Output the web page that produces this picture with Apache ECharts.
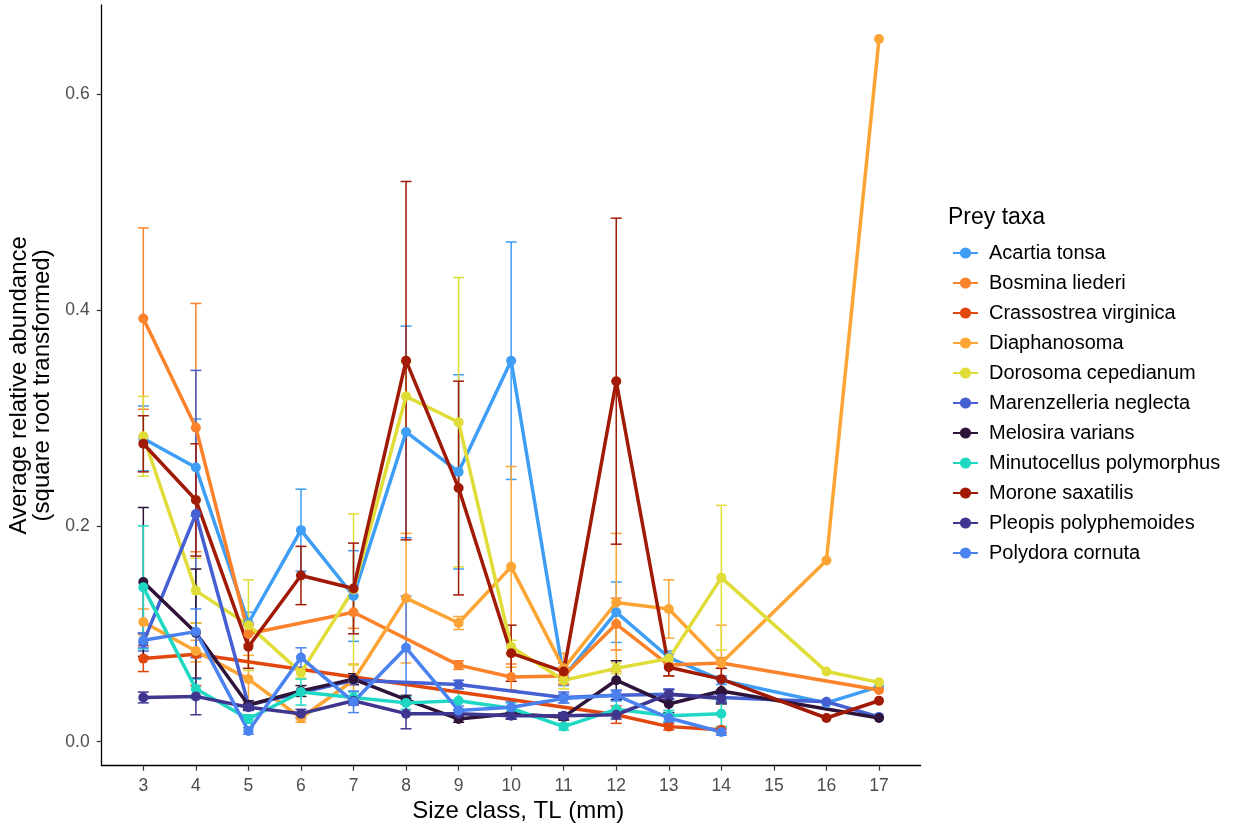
<!DOCTYPE html>
<html><head><meta charset="utf-8">
<script src="https://cdn.jsdelivr.net/npm/echarts@6/dist/echarts.min.js"></script>
<style>html,body{margin:0;padding:0;background:#fff;overflow:hidden}#c{width:1241px;height:823px}</style>
</head><body><div id="c"></div>
<script>
// Size classes (TL, mm)
const sizes = [3,4,5,6,7,8,9,10,11,12,13,14,15,16,17];
const xTicks = [3,4,5,6,7,8,9,10,11,12,13,14,15,16,17];
const yTicks = [0, 0.2, 0.4, 0.6];
const yTickLabels = ['0.0', '0.2', '0.4', '0.6'];

const taxa = ['Acartia tonsa','Bosmina liederi','Crassostrea virginica','Diaphanosoma','Dorosoma cepedianum',
  'Marenzelleria neglecta','Melosira varians','Minutocellus polymorphus','Morone saxatilis','Pleopis polyphemoides','Polydora cornuta'];
const taxaColors = ['#3e9df5','#f9822b','#e2470e','#fca535','#e0dc38','#4560d2','#2e1439','#1fd8c4','#a11a06','#3f3690','#4a82ef'];

// mean values per size class (null = absent)
const acartiaMean      = [0.281,0.254,0.110,0.196,0.135,0.287,0.250,0.353,0.060,0.120,0.078,0.057,null,0.036,0.051];
const acartiaSE        = [0.030,0.045,0.010,0.038,0.042,0.098,0.090,0.110,0.008,0.028,0.006,0.004,null,null,null];
const bosminaMean      = [0.392,0.291,0.100,null,0.120,null,0.071,0.060,0.061,0.109,0.071,0.073,null,null,0.048];
const bosminaSE        = [0.084,0.115,0.010,null,0.015,null,0.004,0.012,0.008,0.024,0.010,0.005,null,null,null];
const crassostreaMean  = [0.077,0.081,null,null,null,null,null,null,null,0.025,0.014,0.011,null,null,null];
const crassostreaSE    = [0.012,0.029,null,null,null,null,null,null,null,0.008,0.003,0.003,null,null,null];
const diaphanosomaMean = [0.111,0.084,0.058,0.022,0.057,0.133,0.110,0.162,0.068,0.129,0.123,0.073,null,0.168,0.651];
const diaphanosomaSE   = [0.012,0.010,0.022,0.004,0.015,0.060,0.006,0.093,0.014,0.064,0.027,0.035,null,null,null];
const dorosomaMean     = [0.283,0.140,0.108,0.064,0.141,0.320,0.296,0.088,0.057,0.068,0.077,0.152,null,0.065,0.055];
const dorosomaSE       = [0.037,0.030,0.042,0.005,0.070,0.032,0.134,0.006,0.008,0.005,0.005,0.067,null,null,null];
const marenzelleriaMean= [0.092,0.211,0.034,null,0.057,null,0.053,null,0.041,0.043,0.044,0.041,null,0.037,0.023];
const marenzelleriaSE  = [0.008,0.133,0.004,null,0.004,null,0.004,null,0.005,0.004,0.005,0.004,null,null,null];
const melosiraMean     = [0.148,0.101,0.034,0.047,0.058,0.039,0.021,0.026,0.023,0.057,0.035,0.047,null,null,0.022];
const melosiraSE       = [0.069,0.059,0.004,0.005,0.005,0.004,0.003,0.005,0.003,0.018,0.008,0.012,null,null,null];
const minutocellusMean = [0.143,0.049,0.021,0.046,0.041,0.036,0.038,0.031,0.014,0.030,0.024,0.026,null,null,null];
const minutocellusSE   = [0.057,0.009,0.004,0.012,0.005,0.006,0.008,0.005,0.003,0.008,0.005,0.012,null,null,null];
const moroneMean       = [0.276,0.224,0.088,0.154,0.142,0.353,0.235,0.082,0.065,0.334,0.069,0.058,null,0.022,0.038];
const moroneSE         = [0.026,0.052,0.020,0.027,0.042,0.166,0.099,0.026,0.008,0.151,0.008,0.010,null,null,null];
const pleopisMean      = [0.041,0.042,0.032,0.026,0.038,0.026,0.026,0.024,0.024,0.025,0.044,0.040,null,null,null];
const pleopisSE        = [0.005,0.017,0.003,0.004,0.004,0.014,0.003,0.003,0.003,0.004,0.004,0.004,null,null,null];
const polydoraMean     = [0.094,0.102,0.010,0.078,0.037,0.087,0.029,0.032,0.040,0.043,0.022,0.009,null,null,null];
const polydoraSE       = [0.007,0.021,0.003,0.009,0.010,0.048,0.004,0.005,0.004,0.005,0.004,0.003,null,null,null];

const means = [acartiaMean,bosminaMean,crassostreaMean,diaphanosomaMean,dorosomaMean,marenzelleriaMean,
  melosiraMean,minutocellusMean,moroneMean,pleopisMean,polydoraMean];
const ses = [acartiaSE,bosminaSE,crassostreaSE,diaphanosomaSE,dorosomaSE,marenzelleriaSE,
  melosiraSE,minutocellusSE,moroneSE,pleopisSE,polydoraSE];

const FONT = '"Liberation Sans", Arial, Helvetica, sans-serif';
const series = [];
// error bars first (drawn underneath)
taxa.forEach((name, i) => {
  const data = [];
  sizes.forEach((s, j) => {
    const m = means[i][j], e = ses[i][j];
    if (m != null && e != null) data.push([s, m - e, m + e]);
  });
  const col = taxaColors[i];
  series.push({
    name: name + ' SE', type: 'custom', data, z: 1, silent: true,
    encode: { x: 0, y: [1, 2] },
    renderItem: (params, api) => {
      const x = api.value(0);
      const p1 = api.coord([x, api.value(1)]);
      const p2 = api.coord([x, api.value(2)]);
      const w = 5.5;
      const st = { stroke: col, lineWidth: 1.5 };
      return { type: 'group', children: [
        { type: 'line', shape: { x1: p1[0], y1: p1[1], x2: p2[0], y2: p2[1] }, style: st },
        { type: 'line', shape: { x1: p1[0]-w, y1: p1[1], x2: p1[0]+w, y2: p1[1] }, style: st },
        { type: 'line', shape: { x1: p2[0]-w, y1: p2[1], x2: p2[0]+w, y2: p2[1] }, style: st }
      ]};
    }
  });
});
taxa.forEach((name, i) => {
  const data = [];
  sizes.forEach((s, j) => { if (means[i][j] != null) data.push([s, means[i][j]]); });
  series.push({
    name, type: 'line', data, z: 2,
    symbol: 'circle', symbolSize: 10, showSymbol: true,
    lineStyle: { color: taxaColors[i], width: 3.5 },
    itemStyle: { color: taxaColors[i] },
    emphasis: { disabled: true },
    animation: false
  });
});

const chart = echarts.init(document.getElementById('c'), null, { renderer: 'canvas' });
chart.setOption({
  animation: false,
  backgroundColor: '#ffffff',
  title: {
    text: 'Prey taxa', left: 943, top: 201,
    textStyle: { fontFamily: FONT, fontSize: 23, fontWeight: 'normal', color: '#000' }
  },
  legend: {
    data: taxa, orient: 'vertical', left: 947, top: 238,
    itemWidth: 25, itemHeight: 14, itemGap: 10,
    textStyle: { fontFamily: FONT, fontSize: 20, color: '#000', padding: [0, 0, 0, 6] },
    selectedMode: false
  },
  grid: { left: 101.7, right: 320.4, top: 5, bottom: 57.3, containLabel: false, outerBoundsMode: 'none' },
  xAxis: {
    type: 'value', min: 2.208, max: 17.792,
    name: 'Size class, TL (mm)', nameLocation: 'middle', nameGap: 25,
    nameTextStyle: { fontFamily: FONT, fontSize: 24, color: '#000', verticalAlign: 'top', padding: [0, 0, 0, 14] },
    axisLine: { onZero: false, lineStyle: { color: '#000', width: 1.3 } },
    axisTick: { length: 5, lineStyle: { color: '#333', width: 1.2 }, customValues: xTicks },
    axisLabel: { fontFamily: FONT, fontSize: 17.5, color: '#4d4d4d', margin: 11, customValues: xTicks },
    splitLine: { show: false }
  },
  yAxis: {
    type: 'value', min: -0.0222, max: 0.6825,
    name: 'Average relative abundance\n(square root transformed)', nameLocation: 'middle', nameGap: 42, nameRotate: 90,
    nameTextStyle: { fontFamily: FONT, fontSize: 24, color: '#000', lineHeight: 23, align: 'center' },
    axisLine: { onZero: false, lineStyle: { color: '#000', width: 1.3 } },
    axisTick: { length: 5, lineStyle: { color: '#333', width: 1.2 }, customValues: yTicks },
    axisLabel: { fontFamily: FONT, fontSize: 17.5, color: '#4d4d4d', margin: 12, customValues: yTicks,
      formatter: v => { const k = yTicks.findIndex(t => Math.abs(t - v) < 1e-6); return k >= 0 ? yTickLabels[k] : ''; } },
    splitLine: { show: false }
  },
  series
});
</script></body></html>
